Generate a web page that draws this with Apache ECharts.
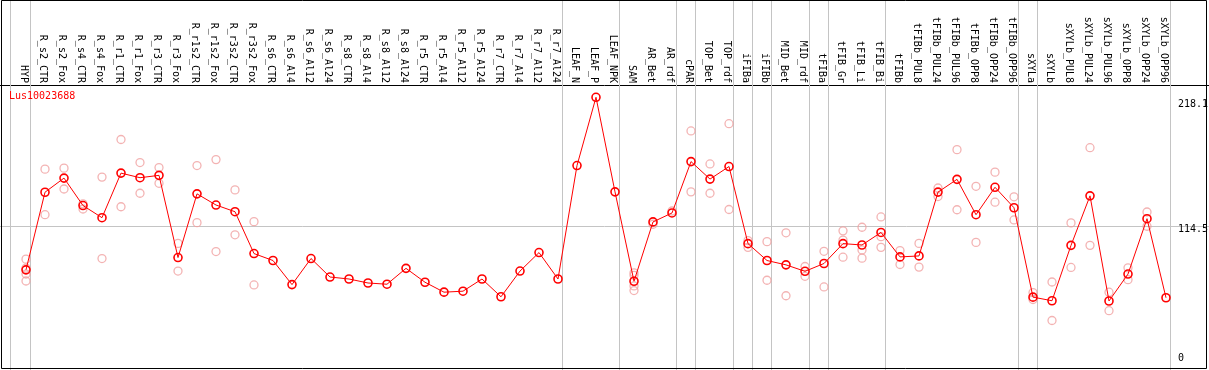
<!DOCTYPE html>
<html>
<head>
<meta charset="utf-8">
<script src="https://cdn.jsdelivr.net/npm/echarts@6/dist/echarts.min.js"></script>
<style>
  html, body { margin: 0; padding: 0; background: #fff; }
  #chart { width: 1209px; height: 370px; }
</style>
</head>
<body>
<div id="chart"></div>
<script>
const chartTitle = 'Lus10023688';

const categories = [
  'HYP', 'R_s2_CTR', 'R_s2_Fox', 'R_s4_CTR', 'R_s4_Fox', 'R_r1_CTR', 'R_r1_Fox', 'R_r3_CTR', 'R_r3_Fox',
  'R_r1s2_CTR', 'R_r1s2_Fox', 'R_r3s2_CTR', 'R_r3s2_Fox', 'R_s6_CTR', 'R_s6_Al4', 'R_s6_Al12', 'R_s6_Al24',
  'R_s8_CTR', 'R_s8_Al4', 'R_s8_Al12', 'R_s8_Al24', 'R_r5_CTR', 'R_r5_Al4', 'R_r5_Al12', 'R_r5_Al24',
  'R_r7_CTR', 'R_r7_Al4', 'R_r7_Al12', 'R_r7_Al24', 'LEAF_N', 'LEAF_P', 'LEAF_NPK', 'SAM', 'AR_Bet', 'AR_rdf',
  'cPAR', 'TOP_Bet', 'TOP_rdf', 'iFIBa', 'iFIBb', 'MID_Bet', 'MID_rdf', 'tFIBa', 'tFIB_Gr', 'tFIB_Li', 'tFIB_Bi',
  'tFIBb', 'tFIBb_PUL8', 'tFIBb_PUL24', 'tFIBb_PUL96', 'tFIBb_OPP8', 'tFIBb_OPP24', 'tFIBb_OPP96',
  'sXYLa', 'sXYLb', 'sXYLb_PUL8', 'sXYLb_PUL24', 'sXYLb_PUL96', 'sXYLb_OPP8', 'sXYLb_OPP24', 'sXYLb_OPP96'
];

// mean expression per category
const meanValues = [
  79.1, 141.6, 153.0, 130.9, 121.1, 157.0, 153.3, 155.2, 89.0,
  140.3, 131.3, 125.9, 92.2, 86.6, 67.2, 88.2, 73.3,
  71.7, 68.5, 67.5, 80.3, 69.1, 61.1, 61.9, 71.7,
  57.4, 78.1, 93.0, 71.7, 163.1, 218.1, 141.9, 69.9, 117.7, 124.9,
  166.3, 152.2, 162.3, 100.2, 86.6, 83.1, 77.9, 84.2, 100.2, 99.1, 109.2,
  89.5, 90.3, 141.7, 152.0, 123.5, 145.6, 129.1,
  57.1, 54.2, 98.8, 138.7, 54.0, 75.7, 120.3, 56.6
];

// replicate values per category (null = no replicate shown)
const rep1 = [
  87.7, 160.2, 161.0, 132.3, 153.8, 184.1, 165.5, 161.5, 100.4,
  163.1, 167.9, 143.5, 117.9, null, null, null, null,
  null, null, null, null, null, null, null, null,
  null, null, null, null, null, null, null, 76.7, 115.8, 126.5,
  191.0, 164.4, 196.8, 102.6, 101.8, 108.9, 81.8, 94.0, 110.5, 113.4, 121.7,
  94.6, 100.4, 145.0, 175.9, 146.4, 157.8, 137.9,
  60.8, 69.3, 116.9, 177.5, 61.1, 80.7, 125.7, null
];
const rep2 = [
  80.5, 123.5, 144.2, 128.1, 88.2, 129.9, 140.8, 148.8, 78.1,
  117.1, 93.8, 107.3, 66.9, null, null, null, null,
  null, null, null, null, null, null, null, null,
  null, null, null, null, null, null, null, 74.7, null, null,
  141.9, 140.8, 127.7, 97.2, 70.7, 58.2, 73.9, 65.3, 103.0, 95.1, 105.8,
  83.4, 81.3, 138.1, 127.5, 101.2, 133.6, 119.3,
  55.2, 38.3, 81.0, 98.8, 46.2, 71.2, 114.2, null
];
const rep3 = [
  75.7, null, null, null, null, null, null, null, null,
  null, null, null, null, null, null, null, null,
  null, null, null, null, null, null, null, null,
  null, null, null, null, null, null, null, 66.1, null, null,
  null, null, null, null, null, null, null, null, 89.3, 88.5, 97.2,
  null, null, null, null, null, null, null,
  null, null, null, null, null, null, null, null
];
const rep4 = [
  70.1, null, null, null, null, null, null, null, null,
  null, null, null, null, null, null, null, null,
  null, null, null, null, null, null, null, null,
  null, null, null, null, null, null, null, 62.4, null, null,
  null, null, null, null, null, null, null, null, null, null, null,
  null, null, null, null, null, null, null,
  null, null, null, null, null, null, null, null
];

// right-hand tick labels
const yTickValues = [0, 114.5, 218.1];
// group separators (in category-index units)
const groupBreaks = [-0.84, 0.23, 28.23, 31.23, 34.23, 35.23, 37.23, 38.23, 39.23, 41.23, 42.23, 45.23, 52.23, 53.23, 60.23];

const FONT = 'DejaVu Sans Mono';
const chart = echarts.init(document.getElementById('chart'), null, { renderer: 'canvas' });

const repData = [];
[rep1, rep2, rep3, rep4].forEach(arr => arr.forEach((v, i) => { if (v != null) repData.push([i, v]); }));
const meanData = meanValues.map((v, i) => [i, v]);

const gridLines = yTickValues.filter(v => v > 0 && v < Math.max(...yTickValues));
const labelShift = 0.13; // labels sit slightly left of their points

chart.setOption({
  animation: false,
  backgroundColor: '#fff',
  grid: { left: 0, right: 0, top: 0, bottom: 0, containLabel: false },
  xAxis: {
    type: 'value', position: 'top', min: -1.3684, max: 62.263, offset: -85,
    axisLine: { show: true, onZero: false, lineStyle: { color: '#000', width: 1 } },
    axisTick: { show: false },
    splitLine: { show: false },
    axisLabel: {
      rotate: 90, margin: 2, fontFamily: FONT, fontSize: 10, color: '#000',
      hideOverlap: false, showMinLabel: true, showMaxLabel: true,
      customValues: categories.map((_, i) => i - labelShift),
      formatter: v => categories[Math.round(v + labelShift)] || ''
    }
  },
  yAxis: {
    type: 'value', min: -1.594, max: 296.46,
    axisLine: { show: false }, axisTick: { show: false },
    axisLabel: { show: false }, splitLine: { show: false }
  },
  series: [
    {
      type: 'scatter', name: 'replicates', z: 2,
      data: repData,
      symbol: 'circle', symbolSize: 8,
      itemStyle: { color: 'rgba(0,0,0,0)', borderColor: '#f0a0a0', borderWidth: 1.3 },
      markLine: {
        silent: true, symbol: ['none', 'none'], animation: false, z: 1,
        label: { show: false },
        lineStyle: { color: '#c4c4c4', width: 1, type: 'solid' },
        data: [
          ...groupBreaks.map(b => ({ xAxis: b })),
          ...gridLines.map(g => ({ yAxis: g }))
        ]
      }
    },
    {
      type: 'line', name: chartTitle, z: 3,
      data: meanData,
      symbol: 'circle', symbolSize: 8, showSymbol: true,
      lineStyle: { color: '#ff0000', width: 1 },
      itemStyle: { color: 'rgba(0,0,0,0)', borderColor: '#ff0000', borderWidth: 1.6 }
    }
  ]
});

const labelOffsets = [-15, -1, 2];
const graphics = [
  {
    type: 'rect', silent: true, z: 100,
    shape: { x: 1.5, y: 0.5, width: 1205, height: 368 },
    style: { fill: null, stroke: '#000', lineWidth: 1 }
  },
  {
    type: 'text', silent: true, z: 100, x: 9, y: 91,
    style: { text: chartTitle, fill: '#ff0000', font: '10px "' + FONT + '"', textVerticalAlign: 'top' }
  }
];
yTickValues.forEach((v, k) => {
  const py = chart.convertToPixel({ yAxisIndex: 0 }, v);
  graphics.push({
    type: 'text', silent: true, z: 100, x: 1178, y: py + labelOffsets[k],
    style: { text: String(v), fill: '#000', font: '10px "' + FONT + '"', textVerticalAlign: 'top' }
  });
});
chart.setOption({ graphic: graphics });
</script>
</body>
</html>
